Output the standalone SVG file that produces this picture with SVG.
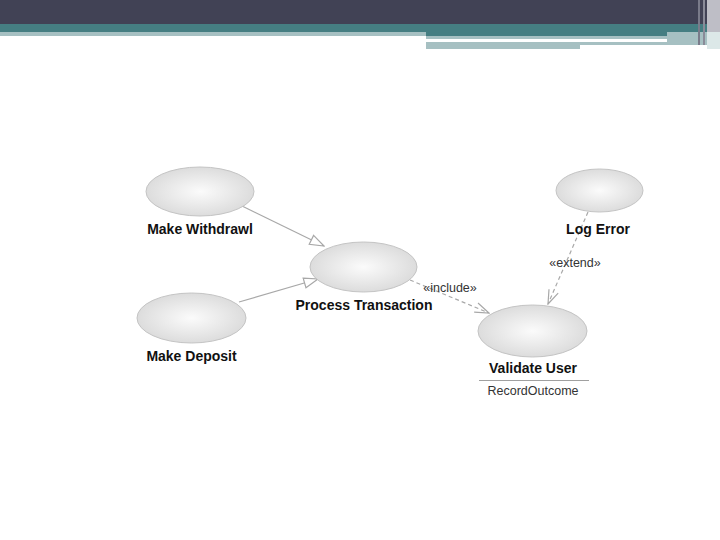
<svg xmlns="http://www.w3.org/2000/svg" width="720" height="540" viewBox="0 0 720 540">
<style>
.uc{fill:url(#g);stroke:#c4c4c4;stroke-width:1}
.lbl{font-family:"Liberation Sans",Arial,sans-serif;font-weight:bold;font-size:14px;fill:#111;text-anchor:middle}
.st{font-family:"Liberation Sans",Arial,sans-serif;font-size:12.5px;fill:#333;text-anchor:middle}
.gen{stroke:#a8a8a8;stroke-width:1.2;fill:none}
.dep{stroke:#a8a8a8;stroke-width:1.2;fill:none;stroke-dasharray:4,3}
</style>
<defs>
<radialGradient id="g" cx="0.5" cy="0.5" r="0.6">
<stop offset="0" stop-color="#fbfbfb"/>
<stop offset="1" stop-color="#d6d6d6"/>
</radialGradient>
<marker id="tri" markerWidth="16" markerHeight="12" refX="15" refY="6" orient="auto" markerUnits="userSpaceOnUse">
<path d="M1,1 L15,6 L1,11 Z" fill="#fff" stroke="#a8a8a8" stroke-width="1.2"/>
</marker>
<marker id="open" markerWidth="16" markerHeight="12" refX="15" refY="6" orient="auto" markerUnits="userSpaceOnUse">
<path d="M1,1 L15,6 L1,11" fill="none" stroke="#a8a8a8" stroke-width="1.2"/>
</marker>
</defs>
<rect width="720" height="540" fill="#fff"/>
<g id="header">
<rect x="0" y="0" width="720" height="24" fill="#414255"/>
<rect x="0" y="24" width="720" height="8" fill="#457e82"/>
<rect x="0" y="32" width="426" height="4" fill="#a6c0c2"/>
<rect x="426" y="32" width="281" height="4" fill="#457e82"/>
<rect x="426" y="36" width="241" height="3" fill="#a6c0c2"/>
<rect x="426" y="42" width="281" height="3" fill="#a6c0c2"/>
<rect x="426" y="45" width="154" height="4" fill="#a6c0c2"/>
<rect x="667" y="32" width="40" height="13" fill="#a6c0c2"/>
<rect x="698" y="0" width="2" height="45" fill="#7a7b8a"/>
<rect x="703" y="0" width="2" height="45" fill="#8a8b98"/>
<rect x="707" y="0" width="13" height="32" fill="#bebec6"/>
<rect x="707" y="32" width="13" height="17" fill="#dce8e8"/>
</g>
<g id="connectors">
<line class="gen" x1="240" y1="205" x2="324" y2="246" marker-end="url(#tri)"/>
<line class="gen" x1="239" y1="302" x2="318" y2="279" marker-end="url(#tri)"/>
<line class="dep" x1="410" y1="280" x2="489" y2="313" marker-end="url(#open)"/>
<text class="st" x="450" y="292">«include»</text>
<line class="dep" x1="588" y1="212" x2="548" y2="304" marker-end="url(#open)"/>
<text class="st" x="575" y="267">«extend»</text>
</g>
<g id="withdraw">
<ellipse class="uc" cx="200" cy="191.5" rx="54" ry="24.5"/>
<text class="lbl" x="200" y="234">Make Withdrawl</text>
</g>
<g id="deposit">
<ellipse class="uc" cx="191.5" cy="318" rx="54.5" ry="25"/>
<text class="lbl" x="191.5" y="361">Make Deposit</text>
</g>
<g id="process">
<ellipse class="uc" cx="363.5" cy="267" rx="53.5" ry="25"/>
<text class="lbl" x="364" y="310">Process Transaction</text>
</g>
<g id="logerror">
<ellipse class="uc" cx="599.5" cy="190.5" rx="43.5" ry="21.5"/>
<text class="lbl" x="598" y="234">Log Error</text>
</g>
<g id="validate">
<ellipse class="uc" cx="532.5" cy="331" rx="54.5" ry="26"/>
<text class="lbl" x="533" y="373">Validate User</text>
<line x1="479" y1="380.5" x2="589" y2="380.5" stroke="#a0a0a0" stroke-width="1"/>
<text class="st" x="533" y="395" font-size="13px">RecordOutcome</text>
</g>
</svg>
